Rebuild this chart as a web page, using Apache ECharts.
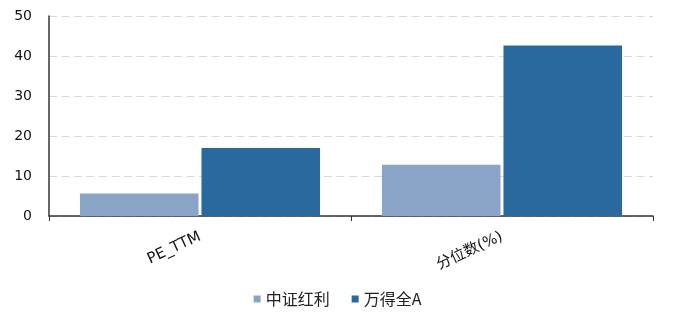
<!DOCTYPE html>
<html><head><meta charset="utf-8">
<script src="https://cdn.jsdelivr.net/npm/echarts@6/dist/echarts.min.js"></script>
<style>html,body{margin:0;padding:0;background:#fff}#c{width:675px;height:322px}</style>
</head><body><div id="c"></div>
<script>
const categories = ['PE_TTM', '分位数(%)'];
const seriesNames = ['中证红利', '万得全A'];
const csiDividend = [5.6, 12.8];
const windAllA = [17.0, 42.6];
const yTicks = [0, 10, 20, 30, 40, 50];

const chart = echarts.init(document.getElementById('c'));
const font = '"DejaVu Sans","Noto Sans CJK SC",sans-serif';
chart.setOption({
  animation: false,
  grid: { left: 49, right: 22, top: 16, bottom: 106 },
  legend: {
    bottom: 10, left: 'center', itemWidth: 7, itemHeight: 7, itemGap: 22,
    icon: 'rect',
    textStyle: { fontFamily: '"Noto Sans CJK SC",sans-serif', fontSize: 16, color: '#222' },
    data: seriesNames
  },
  xAxis: {
    type: 'category', data: categories,
    axisLine: { lineStyle: { color: '#333', width: 1.5 } },
    axisTick: { show: true, length: 5, lineStyle: { color: '#333' } },
    axisLabel: { rotate: 25, fontFamily: font, fontSize: 15, color: '#111', margin: 20 }
  },
  yAxis: {
    type: 'value', min: yTicks[0], max: yTicks[yTicks.length-1], interval: 10,
    axisLine: { show: true, lineStyle: { color: '#333', width: 1.5 } },
    axisTick: { show: false },
    axisLabel: { fontFamily: font, fontSize: 14, color: '#111', margin: 17 },
    splitLine: { lineStyle: { color: '#d9d9d9', type: [8, 4.5] } }
  },
  series: [
    { name: seriesNames[0], type: 'bar', data: csiDividend, barGap: '2.5%', barCategoryGap: '20.5%',
      itemStyle: { color: '#8AA4C8' } },
    { name: seriesNames[1], type: 'bar', data: windAllA,
      itemStyle: { color: '#29699E' } }
  ]
});
</script></body></html>
